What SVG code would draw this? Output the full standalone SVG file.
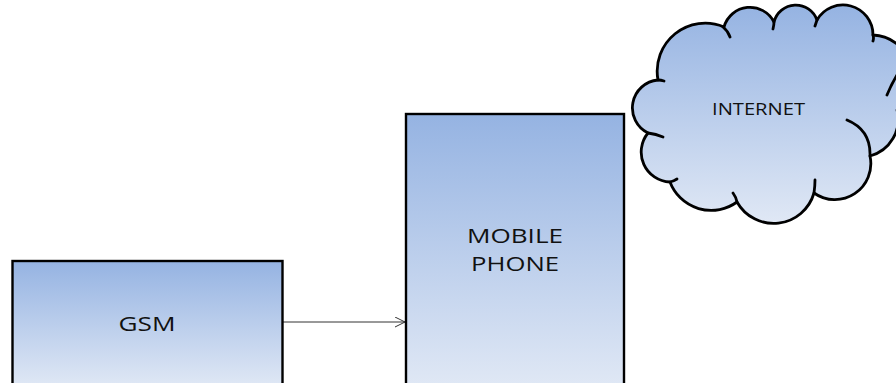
<svg xmlns="http://www.w3.org/2000/svg" width="896" height="383" viewBox="0 0 896 383">
<defs>
<linearGradient id="fillGrad" x1="0" y1="0" x2="0" y2="1">
<stop offset="0" stop-color="#95b3e2"/>
<stop offset="1" stop-color="#e0e8f5"/>
</linearGradient>
<marker id="arrowOpen" markerWidth="12" markerHeight="12" refX="10" refY="5" orient="auto" markerUnits="userSpaceOnUse">
<path d="M0,0 L10,5 L0,10" fill="none" stroke="#333" stroke-width="1"/>
</marker>
</defs>
<style>
.box{fill:url(#fillGrad);stroke:#000;stroke-width:2.4}
.cloud{fill:url(#fillGrad);stroke:#000;stroke-width:2.8;stroke-linejoin:round}
.curl{fill:none;stroke:#000;stroke-width:2.8;stroke-linecap:round}
.lbl{font-family:"Open Sans","Liberation Sans",sans-serif;fill:#111;text-anchor:middle}
.conn{stroke:#333;stroke-width:1;fill:none}
</style>
<rect width="896" height="383" fill="#fff"/>
<g id="connectors">
<line class="conn" x1="283" y1="322" x2="405" y2="322" marker-end="url(#arrowOpen)"/>
</g>
<g id="gsm">
<rect class="box" x="12.5" y="261" width="270" height="126"/>
<text class="lbl" x="147" y="330.5" font-size="20.5" textLength="57" lengthAdjust="spacingAndGlyphs">GSM</text>
</g>
<g id="mobile-phone">
<rect class="box" x="406" y="114" width="218" height="273"/>
<text class="lbl" x="515" y="243" font-size="20.5" textLength="96" lengthAdjust="spacingAndGlyphs">MOBILE</text>
<text class="lbl" x="515" y="271" font-size="20.5" textLength="88" lengthAdjust="spacingAndGlyphs">PHONE</text>
</g>
<g id="internet">
<path class="cloud" d="M658,80 A48,48 0 0 1 724,27 A27,27 0 0 1 774,22 A22.5,22.5 0 0 1 817,20 A30,30 0 0 1 873,35 A42,42 0 0 1 897,110 A38,38 0 0 1 870,156 A36,36 0 0 1 814,193 A42,42 0 0 1 737,202 A44,44 0 0 1 670,182 A30,30 0 0 1 648,133 A28,28 0 0 1 658,80 Z"/>
<path class="curl" d="M723,27 Q728,31 730,37 M774,22 Q774,25 773,29 M817,20 Q816,23 815,26 M873,35 Q874,38 873,41 M887,95 Q891,85 897,75 M847,120 Q871,130 870,156 M814,193 Q815,186 815,180 M737,202 Q736,197 733,193 M670,182 Q674,181 677,179 M648,133 Q656,134 663,137 M658,80 Q661,80 664,81"/>
<text class="lbl" x="758.5" y="115" font-size="15.5" textLength="93" lengthAdjust="spacingAndGlyphs">INTERNET</text>
</g>
</svg>
